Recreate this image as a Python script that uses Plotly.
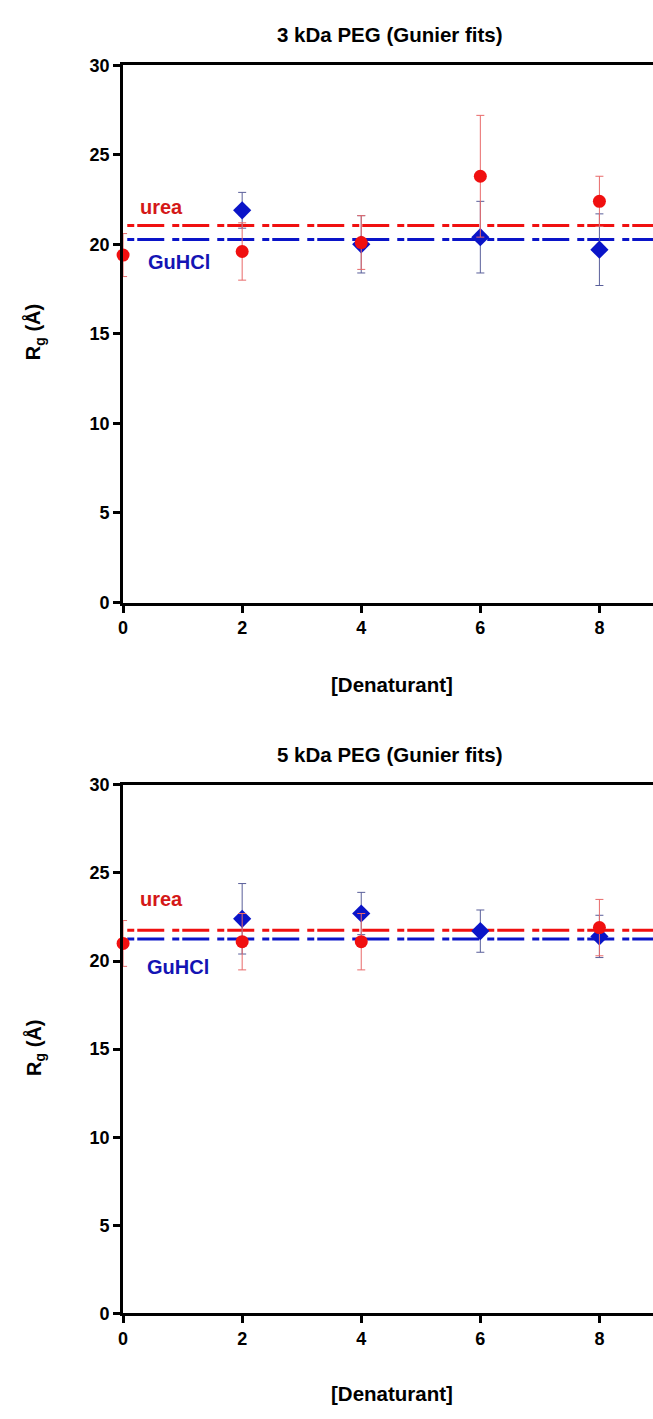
import plotly.graph_objects as go

# Denaturant concentrations (M)
denat_urea = [0, 2, 4, 6, 8]
denat_gu = [2, 4, 6, 8]

# 3 kDa PEG, Guinier Rg (Å)
rg3_urea = [19.4, 19.6, 20.1, 23.8, 22.4]
err3_urea = [1.2, 1.6, 1.5, 3.4, 1.4]
rg3_gu = [21.9, 20.0, 20.4, 19.7]
err3_gu = [1.0, 1.6, 2.0, 2.0]
fit3_urea = 21.05
fit3_gu = 20.27

# 5 kDa PEG, Guinier Rg (Å)
denat5_urea = [0, 2, 4, 8]
rg5_urea = [21.0, 21.1, 21.1, 21.9]
err5_urea = [1.3, 1.6, 1.6, 1.6]
rg5_gu = [22.4, 22.7, 21.7, 21.4]
err5_gu = [2.0, 1.2, 1.2, 1.2]
fit5_urea = 21.75
fit5_gu = 21.25

y_ticks = [0, 5, 10, 15, 20, 25, 30]
x_ticks = [0, 2, 4, 6, 8]

W, H = 653, 1419
RED = "#f01010"
BLUE = "#0a14c8"
FONT = "Liberation Sans"
DASH = "7px,3px,27px,8px"

fig = go.Figure()


def add_panel(xa, ya, ux, uy, ue, gx, gy, ge, fu, fg):
    xr = [0.07, 8.9]
    fig.add_trace(go.Scatter(x=xr, y=[fu, fu], mode="lines", xaxis=xa, yaxis=ya,
                             line=dict(color=RED, width=3, dash=DASH),
                             showlegend=False, hoverinfo="skip"))
    fig.add_trace(go.Scatter(x=xr, y=[fg, fg], mode="lines", xaxis=xa, yaxis=ya,
                             line=dict(color=BLUE, width=3, dash=DASH),
                             showlegend=False, hoverinfo="skip"))
    fig.add_trace(go.Scatter(x=gx, y=gy, mode="markers", xaxis=xa, yaxis=ya,
                             marker=dict(symbol="diamond", size=14, color=BLUE),
                             error_y=dict(type="data", array=ge, visible=True,
                                          color="#5a5f9a", thickness=1, width=4),
                             showlegend=False, cliponaxis=False))
    fig.add_trace(go.Scatter(x=ux, y=uy, mode="markers", xaxis=xa, yaxis=ya,
                             marker=dict(symbol="circle", size=13, color=RED),
                             error_y=dict(type="data", array=ue, visible=True,
                                          color="#e86a6a", thickness=1, width=4),
                             showlegend=False, cliponaxis=False))


add_panel("x", "y", denat_urea, rg3_urea, err3_urea, denat_gu, rg3_gu, err3_gu,
          fit3_urea, fit3_gu)
add_panel("x2", "y2", denat5_urea, rg5_urea, err5_urea, denat_gu, rg5_gu, err5_gu,
          fit5_urea, fit5_gu)


def px_x(p):
    return p / W


def px_y(p):
    return 1 - p / H


axis_common = dict(showline=True, linewidth=3, linecolor="black", ticks="outside",
                   ticklen=7, tickwidth=3, tickcolor="black", showgrid=False,
                   zeroline=False, tickfont=dict(family=FONT, size=18, color="black",
                                                 weight="bold"))

fig.update_layout(
    width=W, height=H,
    margin=dict(l=0, r=0, t=0, b=0),
    paper_bgcolor="white", plot_bgcolor="white",
    xaxis=dict(domain=[px_x(119), 1], range=[0, 8.9], anchor="y", tickvals=x_ticks,
               mirror=True, **axis_common),
    yaxis=dict(domain=[px_y(601), px_y(56)], range=[0, 30], anchor="x",
               tickvals=y_ticks, **axis_common),
    xaxis2=dict(domain=[px_x(119), 1], range=[0, 8.9], anchor="y2", tickvals=x_ticks,
                mirror=True, **axis_common),
    yaxis2=dict(domain=[px_y(1322), px_y(786)], range=[0, 30], anchor="x2",
                tickvals=y_ticks, **axis_common),
)

bold = dict(family=FONT, color="black", weight="bold")
centered = dict(xref="paper", yref="paper", showarrow=False,
                xanchor="center", yanchor="middle")
ann = []
for title, ty, xty, ryc in [("3 kDa PEG (Gunier fits)", 25, 684, 327),
                            ("5 kDa PEG (Gunier fits)", 755, 1403, 1053)]:
    ann.append(dict(text=title, x=px_x(388), y=px_y(ty),
                    font=dict(size=20.5, **bold), **centered))
    ann.append(dict(text="[Denaturant]", x=px_x(390), y=px_y(xty),
                    font=dict(size=20.5, **bold), **centered))
    ann.append(dict(text="R<sub>g</sub> (Å)", x=px_x(30), y=px_y(ryc), textangle=-90,
                    font=dict(size=20, **bold), **centered))

for xa, ya, uxy, gxy in [("x", "y", (0.65, 22.07), (0.94, 18.99)),
                         ("x2", "y2", (0.64, 23.5), (0.92, 19.64))]:
    ann.append(dict(text="urea", x=uxy[0], y=uxy[1], xref=xa, yref=ya, showarrow=False,
                    xanchor="center", yanchor="middle",
                    font=dict(family=FONT, size=20, color="#d41818", weight="bold")))
    ann.append(dict(text="GuHCl", x=gxy[0], y=gxy[1], xref=xa, yref=ya, showarrow=False,
                    xanchor="center", yanchor="middle",
                    font=dict(family=FONT, size=20, color="#1414b4", weight="bold")))

fig.update_layout(annotations=ann)
fig.write_html("out.html")
